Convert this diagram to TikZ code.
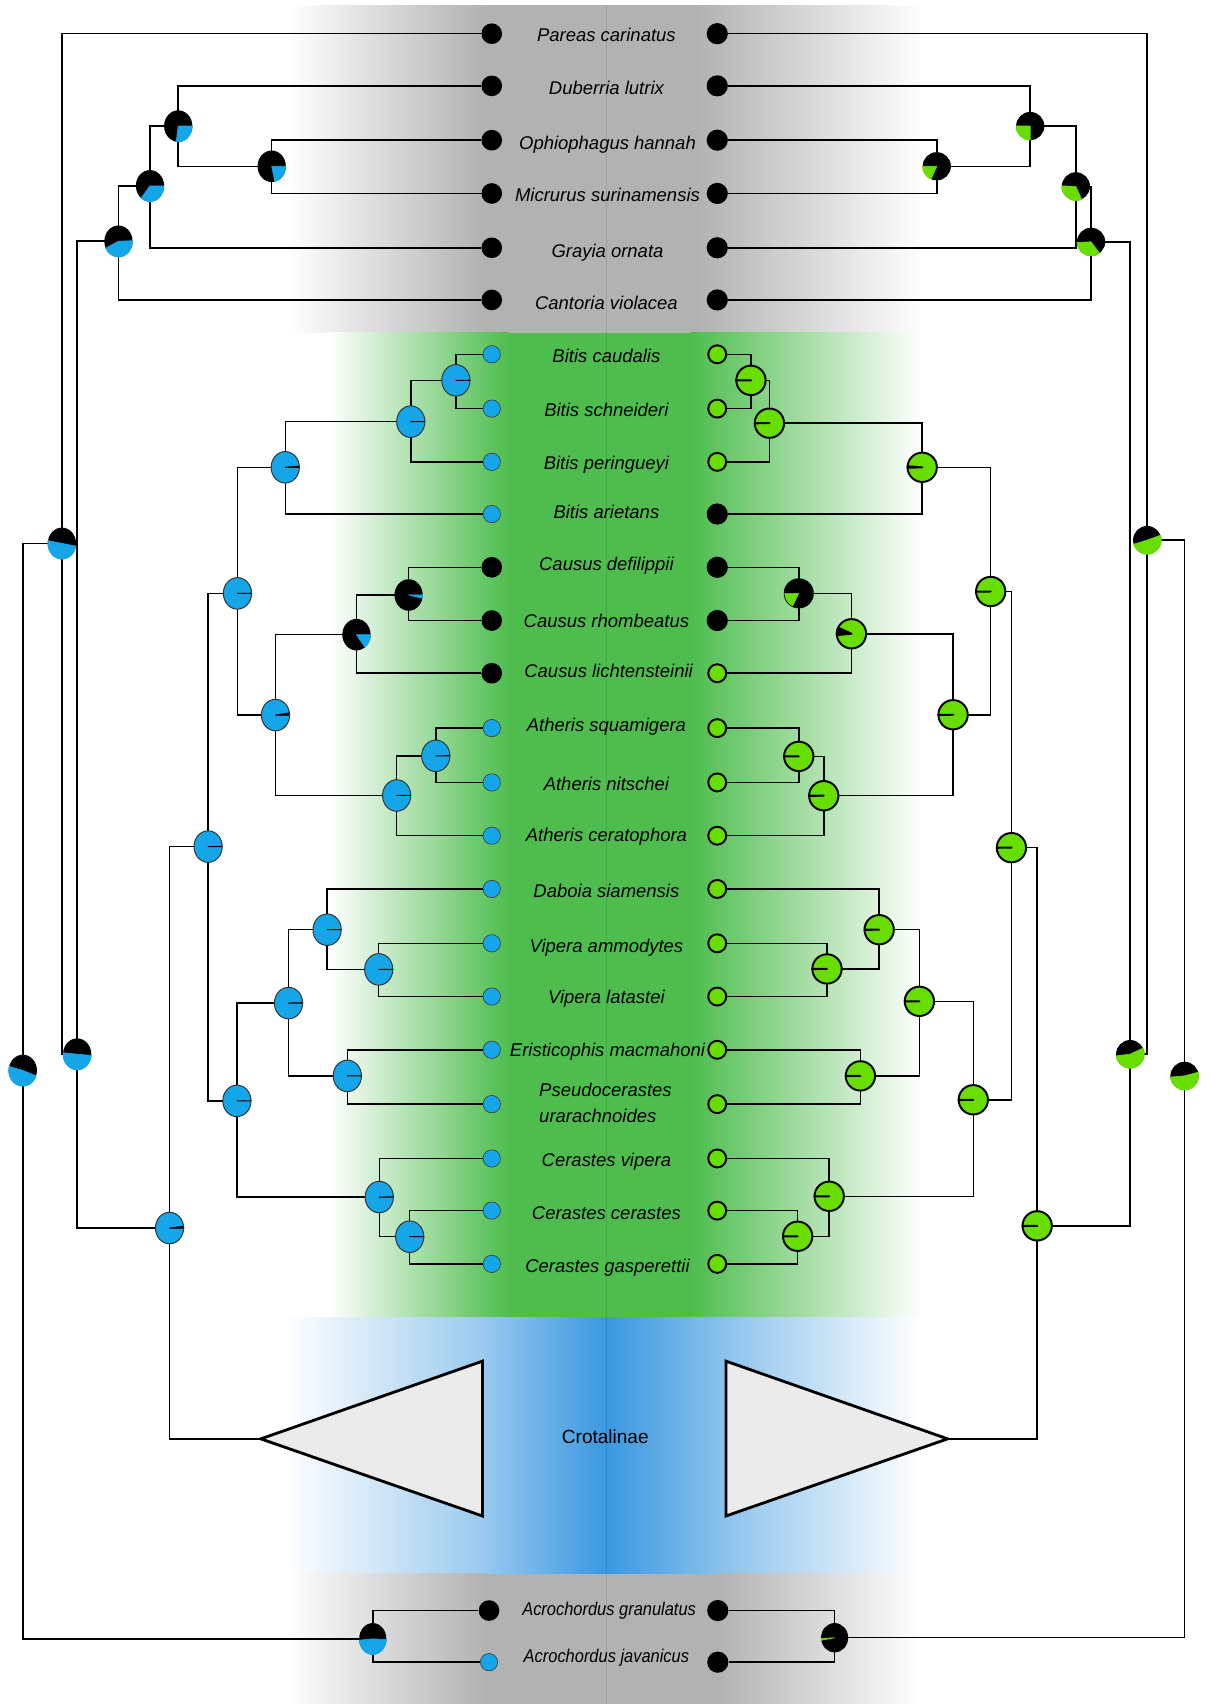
\documentclass[tikz,border=0pt]{standalone}
\usepackage{fontspec}
\setmainfont{Liberation Sans}
\definecolor{pblue}{RGB}{20,166,232}
\definecolor{pgreen}{RGB}{104,222,0}
\definecolor{bgreen}{RGB}{78,189,78}
\definecolor{bblue}{RGB}{58,152,224}
\definecolor{bgray}{RGB}{178,178,178}
\definecolor{trifill}{RGB}{235,235,235}
\tikzset{
 branch/.style={line width=1.4pt, black},
 ldark/.style={circle, fill=black, minimum size=19pt, inner sep=0pt},
 lblue/.style={circle, fill=pblue, draw=black!75, line width=0.6pt, minimum size=16pt, inner sep=0pt},
 rdark/.style={circle, fill=black, minimum size=19.5pt, inner sep=0pt},
 rgreen/.style={circle, fill=pgreen, draw=black, line width=1.8pt, minimum size=16.5pt, inner sep=0pt},
 lab/.style={font=\fontsize{17pt}{20pt}\selectfont\itshape, anchor=base, inner sep=0pt},
 trishape/.style={fill=trifill, draw=black, line width=2.6pt, line join=miter},
}
% #1 name, #2 rx, #3 ry, #4 base, #5 wedge, #6 from, #7 to, #8 lw, #9 outline
\newcommand\pie[9]{\begin{scope}[shift={(#1)},yscale=-1]
\fill[#4] (0,0) ellipse[x radius=#2,y radius=#3];
\filldraw[fill=#5,draw=#5,line width=#8,line join=round] (0,0) -- (#6:#2 and #3) arc[start angle=#6,end angle=#7,x radius=#2,y radius=#3] -- cycle;
\draw[#9,line width=#8] (0,0) ellipse[x radius=#2,y radius=#3];
\end{scope}}
\begin{document}
\begin{tikzpicture}[x=1pt,y=-1pt]
\useasboundingbox (0,0) rectangle (1114,1568);
\fill[white] (0,0) rectangle (1114,1568);
% ---- background bands
\shade[left color=white,right color=bgray] (266,5) rectangle (445,306);
\fill[bgray] (445,5) rectangle (642,306);
\shade[left color=bgray,right color=white] (642,5) rectangle (850,306);
\shade[left color=white,right color=bgreen] (303,306) rectangle (468,1212);
\fill[bgreen] (468,306) rectangle (636,1212);
\shade[left color=bgreen,right color=white] (636,306) rectangle (848,1212);
\shade[left color=white,right color=bblue!50] (263,1212) rectangle (440,1448);
\shade[left color=bblue!50,right color=bblue] (440,1212) rectangle (558,1448);
\shade[left color=bblue,right color=bblue!50] (558,1212) rectangle (690,1448);
\shade[left color=bblue!50,right color=white] (690,1212) rectangle (846,1448);
\shade[left color=white,right color=bgray] (263,1448) rectangle (447,1568);
\fill[bgray] (447,1448) rectangle (660,1568);
\shade[left color=bgray,right color=white] (660,1448) rectangle (846,1568);
\draw[black,opacity=0.1,line width=1.2pt] (558,5) -- (558,1568);
% ---- tip dots, left
\node[ldark] (a1) at (452.5,31) {};
\node[ldark] (a2) at (452.5,79) {};
\node[ldark] (a3) at (452.5,129) {};
\node[ldark] (a4) at (452.5,178) {};
\node[ldark] (a5) at (452.5,228) {};
\node[ldark] (a6) at (452.5,276) {};
\node[lblue] (a7) at (452.5,326) {};
\node[lblue] (a8) at (452.5,376) {};
\node[lblue] (a9) at (452.5,425) {};
\node[lblue] (a10) at (452.5,473) {};
\node[ldark] (a11) at (452.5,522) {};
\node[ldark] (a12) at (452.5,571) {};
\node[ldark] (a13) at (452.5,619.5) {};
\node[lblue] (a14) at (452.5,670) {};
\node[lblue] (a15) at (452.5,720) {};
\node[lblue] (a16) at (452.5,769) {};
\node[lblue] (a17) at (452.5,818) {};
\node[lblue] (a18) at (452.5,868) {};
\node[lblue] (a19) at (452.5,917) {};
\node[lblue] (a20) at (452.5,966) {};
\node[lblue] (a21) at (452.5,1016) {};
\node[lblue] (a22) at (452.5,1066) {};
\node[lblue] (a23) at (452.5,1114) {};
\node[lblue] (a24) at (452.5,1163) {};
\node[ldark] (a25) at (450,1482) {};
\node[lblue] (a26) at (450,1529.5) {};
% ---- tip dots, right
\node[rdark] (b1) at (660,31) {};
\node[rdark] (b2) at (660,79) {};
\node[rdark] (b3) at (660,129) {};
\node[rdark] (b4) at (660,178) {};
\node[rdark] (b5) at (660,228) {};
\node[rdark] (b6) at (660,276) {};
\node[rgreen] (b7) at (660,326) {};
\node[rgreen] (b8) at (660,376) {};
\node[rgreen] (b9) at (660,425) {};
\node[rdark] (b10) at (660,473) {};
\node[rdark] (b11) at (660,522) {};
\node[rdark] (b12) at (660,571) {};
\node[rgreen] (b13) at (660,619.5) {};
\node[rgreen] (b14) at (660,670) {};
\node[rgreen] (b15) at (660,720) {};
\node[rgreen] (b16) at (660,769) {};
\node[rgreen] (b17) at (660,818) {};
\node[rgreen] (b18) at (660,868) {};
\node[rgreen] (b19) at (660,917) {};
\node[rgreen] (b20) at (660,966) {};
\node[rgreen] (b21) at (660,1016) {};
\node[rgreen] (b22) at (660,1066) {};
\node[rgreen] (b23) at (660,1114) {};
\node[rgreen] (b24) at (660,1163) {};
\node[rdark] (b25) at (660.5,1482) {};
\node[rdark] (b26) at (660.5,1529.5) {};
% ---- internal nodes, left
\coordinate (lNOM) at (250,153);
\coordinate (lNDOM) at (164,116);
\coordinate (lNG) at (138,171);
\coordinate (lNC) at (109,222);
\coordinate (lM) at (71,970);
\coordinate (lP) at (57,500);
\coordinate (lR) at (21,985);
\coordinate (lAL) at (343,1508);
\coordinate (lV0) at (156,1130);
\coordinate (lV1) at (191.5,779);
\coordinate (lV2) at (218.5,546);
\coordinate (lB0) at (262.5,430);
\coordinate (lB1) at (378,388);
\coordinate (lB2) at (419.5,350);
\coordinate (lCA) at (253.5,658);
\coordinate (lC1) at (328,584);
\coordinate (lC2) at (376,547.5);
\coordinate (lA1) at (365,732);
\coordinate (lA2) at (401,695.5);
\coordinate (lV3) at (218,1013);
\coordinate (lDV) at (265.5,923);
\coordinate (lD1) at (301,855.5);
\coordinate (lVV) at (348.5,892);
\coordinate (lEP) at (319.6,990);
\coordinate (lCE1) at (349,1101.5);
\coordinate (lCE2) at (377,1138);
\coordinate (triL) at (240,1324);
% ---- internal nodes, right
\coordinate (rNOM) at (862,153);
\coordinate (rNDOM) at (948,116);
\coordinate (rNG) at (990,171.5);
\coordinate (rNC) at (1004,222.5);
\coordinate (rM) at (1040,970);
\coordinate (rP) at (1055.6,497);
\coordinate (rR) at (1090,990);
\coordinate (rAL) at (768,1507);
\coordinate (rV0) at (954.4,1128);
\coordinate (rV1) at (930.7,780);
\coordinate (rV2) at (911.6,544.3);
\coordinate (rB0) at (848.6,430);
\coordinate (rB1) at (708,389.4);
\coordinate (rB2) at (691,350);
\coordinate (rCA) at (877,657.7);
\coordinate (rC1) at (783.5,583.2);
\coordinate (rC2) at (735,546);
\coordinate (rA1) at (758,732.2);
\coordinate (rA2) at (735,696);
\coordinate (rV3) at (895.6,1012);
\coordinate (rDV) at (846,921.4);
\coordinate (rD1) at (809,855.5);
\coordinate (rVV) at (761,891.6);
\coordinate (rEP) at (791.7,990);
\coordinate (rCE1) at (763,1100.8);
\coordinate (rCE2) at (734,1137.6);
\coordinate (triR) at (872,1324);
% ---- connectors, left
\draw[branch] (lNOM) |- (a3) (lNOM) |- (a4);
\draw[branch] (lNDOM) |- (a2) (lNDOM) |- (lNOM);
\draw[branch] (lNG) |- (lNDOM) (lNG) |- (a5);
\draw[branch] (lNC) |- (lNG) (lNC) |- (a6);
\draw[branch] (lM) |- (lNC) (lM) |- (lV0);
\draw[branch] (lP) |- (a1) (lP) |- (lM);
\draw[branch] (lR) |- (lP) (lR) |- (lAL);
\draw[branch] (lAL) |- (a25) (lAL) |- (a26);
\draw[branch] (lV0) |- (lV1) (lV0) |- (triL);
\draw[branch] (lV1) |- (lV2) (lV1) |- (lV3);
\draw[branch] (lV2) |- (lB0) (lV2) |- (lCA);
\draw[branch] (lB0) |- (lB1) (lB0) |- (a10);
\draw[branch] (lB1) |- (lB2) (lB1) |- (a9);
\draw[branch] (lB2) |- (a7) (lB2) |- (a8);
\draw[branch] (lCA) |- (lC1) (lCA) |- (lA1);
\draw[branch] (lC1) |- (lC2) (lC1) |- (a13);
\draw[branch] (lC2) |- (a11) (lC2) |- (a12);
\draw[branch] (lA1) |- (lA2) (lA1) |- (a16);
\draw[branch] (lA2) |- (a14) (lA2) |- (a15);
\draw[branch] (lV3) |- (lDV) (lV3) |- (lCE1);
\draw[branch] (lDV) |- (lD1) (lDV) |- (lEP);
\draw[branch] (lD1) |- (a17) (lD1) |- (lVV);
\draw[branch] (lVV) |- (a18) (lVV) |- (a19);
\draw[branch] (lEP) |- (a20) (lEP) |- (a21);
\draw[branch] (lCE1) |- (a22) (lCE1) |- (lCE2);
\draw[branch] (lCE2) |- (a23) (lCE2) |- (a24);
% ---- connectors, right
\draw[branch] (rNOM) |- (b3) (rNOM) |- (b4);
\draw[branch] (rNDOM) |- (b2) (rNDOM) |- (rNOM);
\draw[branch] (rNG) |- (rNDOM) (rNG) |- (b5);
\draw[branch] (rNC) |- (rNG) (rNC) |- (b6);
\draw[branch] (rM) |- (rNC) (rM) |- (rV0);
\draw[branch] (rP) |- (b1) (rP) |- (rM);
\draw[branch] (rR) |- (rP) (rR) |- (rAL);
\draw[branch] (rAL) |- (b25) (rAL) |- (b26);
\draw[branch] (rV0) |- (rV1) (rV0) |- (triR);
\draw[branch] (rV1) |- (rV2) (rV1) |- (rV3);
\draw[branch] (rV2) |- (rB0) (rV2) |- (rCA);
\draw[branch] (rB0) |- (rB1) (rB0) |- (b10);
\draw[branch] (rB1) |- (rB2) (rB1) |- (b9);
\draw[branch] (rB2) |- (b7) (rB2) |- (b8);
\draw[branch] (rCA) |- (rC1) (rCA) |- (rA1);
\draw[branch] (rC1) |- (rC2) (rC1) |- (b13);
\draw[branch] (rC2) |- (b11) (rC2) |- (b12);
\draw[branch] (rA1) |- (rA2) (rA1) |- (b16);
\draw[branch] (rA2) |- (b14) (rA2) |- (b15);
\draw[branch] (rV3) |- (rDV) (rV3) |- (rCE1);
\draw[branch] (rDV) |- (rD1) (rDV) |- (rEP);
\draw[branch] (rD1) |- (b17) (rD1) |- (rVV);
\draw[branch] (rVV) |- (b18) (rVV) |- (b19);
\draw[branch] (rEP) |- (b20) (rEP) |- (b21);
\draw[branch] (rCE1) |- (b22) (rCE1) |- (rCE2);
\draw[branch] (rCE2) |- (b23) (rCE2) |- (b24);
% ---- collapsed Crotalinae triangles
\draw[trishape] (triL) -- (444,1252.5) -- (444,1395) -- cycle;
\draw[trishape] (triR) -- (668,1252.5) -- (668,1395) -- cycle;
% ---- pies, left
\pie{lNOM}{13}{14.5}{black}{pblue}{-77}{0}{0.6pt}{draw=none}
\pie{lNDOM}{13}{14.5}{black}{pblue}{-98}{0}{0.6pt}{draw=none}
\pie{lNG}{13}{14.5}{black}{pblue}{-129}{0}{0.6pt}{draw=none}
\pie{lNC}{13}{14.5}{black}{pblue}{-154}{2}{0.6pt}{draw=none}
\pie{lP}{13}{14.5}{black}{pblue}{170}{350}{0.6pt}{draw=none}
\pie{lM}{13}{14.5}{black}{pblue}{175}{355}{0.6pt}{draw=none}
\pie{lR}{13}{14.5}{black}{pblue}{165}{340}{0.6pt}{draw=none}
\pie{lAL}{12.5}{14.5}{black}{pblue}{185}{357}{0.6pt}{draw=none}
\pie{lV0}{13}{14.5}{pblue}{black}{0}{6}{0.9pt}{draw=black!80}
\pie{lV1}{13}{14.5}{pblue}{black}{0}{0.5}{0.9pt}{draw=black!80}
\pie{lV2}{13}{14.5}{pblue}{black}{0}{0.5}{0.9pt}{draw=black!80}
\pie{lB0}{13}{14.5}{pblue}{black}{0}{4}{0.9pt}{draw=black!80}
\pie{lB1}{13}{14.5}{pblue}{black}{0}{0.5}{0.9pt}{draw=black!80}
\pie{lB2}{13}{14.5}{pblue}{black}{0}{0.5}{0.9pt}{draw=black!80}
\pie{lCA}{13}{14.5}{pblue}{black}{0}{8}{0.9pt}{draw=black!80}
\pie{lC1}{13}{14.5}{black}{pblue}{-53}{0}{0.6pt}{draw=none}
\pie{lC2}{13}{14.5}{black}{pblue}{-12}{0}{0.6pt}{draw=none}
\pie{lA1}{13}{14.5}{pblue}{black}{0}{0.5}{0.9pt}{draw=black!80}
\pie{lA2}{13}{14.5}{pblue}{black}{0}{0.5}{0.9pt}{draw=black!80}
\pie{lV3}{13}{14.5}{pblue}{black}{0}{0.5}{0.9pt}{draw=black!80}
\pie{lDV}{13}{14.5}{pblue}{black}{0}{1.5}{0.9pt}{draw=black!80}
\pie{lD1}{13}{14.5}{pblue}{black}{0}{0.5}{0.9pt}{draw=black!80}
\pie{lVV}{13}{14.5}{pblue}{black}{0}{0.5}{0.9pt}{draw=black!80}
\pie{lEP}{13}{14.5}{pblue}{black}{0}{0.5}{0.9pt}{draw=black!80}
\pie{lCE1}{13}{14.5}{pblue}{black}{0}{0.5}{0.9pt}{draw=black!80}
\pie{lCE2}{13}{14.5}{pblue}{black}{0}{0.5}{0.9pt}{draw=black!80}
% ---- pies, right
\pie{rNOM}{13}{13}{black}{pgreen}{180}{246}{0.6pt}{draw=none}
\pie{rNDOM}{13}{13}{black}{pgreen}{180}{270}{0.6pt}{draw=none}
\pie{rNG}{13}{13}{black}{pgreen}{178}{294}{0.6pt}{draw=none}
\pie{rNC}{13}{13}{black}{pgreen}{183}{306}{0.6pt}{draw=none}
\pie{rP}{13}{13}{black}{pgreen}{197}{380}{0.6pt}{draw=none}
\pie{rM}{13}{13}{black}{pgreen}{187}{385}{0.6pt}{draw=none}
\pie{rR}{13}{13}{black}{pgreen}{185}{375}{0.6pt}{draw=none}
\pie{rAL}{12.5}{13.5}{black}{pgreen}{183}{190}{0.6pt}{draw=none}
\pie{rV0}{13.5}{13.5}{pgreen}{black}{180}{180.5}{1.8pt}{draw=black}
\pie{rV1}{13.5}{13.5}{pgreen}{black}{180}{180.5}{1.8pt}{draw=black}
\pie{rV2}{13.5}{13.5}{pgreen}{black}{180}{180.5}{1.8pt}{draw=black}
\pie{rB0}{13.5}{13.5}{pgreen}{black}{176}{182}{1.8pt}{draw=black}
\pie{rB1}{13.5}{13.5}{pgreen}{black}{180}{180.5}{1.8pt}{draw=black}
\pie{rB2}{13.5}{13.5}{pgreen}{black}{180}{180.5}{1.8pt}{draw=black}
\pie{rCA}{13.5}{13.5}{pgreen}{black}{180}{180.5}{1.8pt}{draw=black}
\pie{rC1}{13.5}{13.5}{pgreen}{black}{155}{185}{1.8pt}{draw=black}
\pie{rC2}{13.5}{13.5}{black}{pgreen}{180}{244}{0.6pt}{draw=black}
\pie{rA1}{13.5}{13.5}{pgreen}{black}{180}{180.5}{1.8pt}{draw=black}
\pie{rA2}{13.5}{13.5}{pgreen}{black}{180}{180.5}{1.8pt}{draw=black}
\pie{rV3}{13.5}{13.5}{pgreen}{black}{180}{180.5}{1.8pt}{draw=black}
\pie{rDV}{13.5}{13.5}{pgreen}{black}{180}{180.5}{1.8pt}{draw=black}
\pie{rD1}{13.5}{13.5}{pgreen}{black}{180}{180.5}{1.8pt}{draw=black}
\pie{rVV}{13.5}{13.5}{pgreen}{black}{180}{180.5}{1.8pt}{draw=black}
\pie{rEP}{13.5}{13.5}{pgreen}{black}{180}{180.5}{1.8pt}{draw=black}
\pie{rCE1}{13.5}{13.5}{pgreen}{black}{180}{180.5}{1.8pt}{draw=black}
\pie{rCE2}{13.5}{13.5}{pgreen}{black}{180}{180.5}{1.8pt}{draw=black}
% ---- labels
\node[lab] (t1) at (558,38.3) {Pareas carinatus};
\node[lab] (t2) at (558,87.4) {Duberria lutrix};
\node[lab] (t3) at (559,137.5) {Ophiophagus hannah};
\node[lab] (t4) at (559,185.5) {Micrurus surinamensis};
\node[lab] (t5) at (559,237) {Grayia ornata};
\node[lab] (t6) at (558,285) {Cantoria violacea};
\node[lab] (t7) at (558,333.3) {Bitis caudalis};
\node[lab] (t8) at (558,383.3) {Bitis schneideri};
\node[lab] (t9) at (558,431.7) {Bitis peringueyi};
\node[lab] (t10) at (558,476.8) {Bitis arietans};
\node[lab] (t11) at (558,525) {Causus defilippii};
\node[lab] (t12) at (558,577.4) {Causus rhombeatus};
\node[lab] (t13) at (560,623.4) {Causus lichtensteinii};
\node[lab] (t14) at (558,673) {Atheris squamigera};
\node[lab] (t15) at (558,727) {Atheris nitschei};
\node[lab] (t16) at (558,774.2) {Atheris ceratophora};
\node[lab] (t17) at (558,826) {Daboia siamensis};
\node[lab] (t18) at (558,876.4) {Vipera ammodytes};
\node[lab] (t19) at (558,923) {Vipera latastei};
\node[lab] (t20) at (559,972.5) {Eristicophis macmahoni};
\node[lab,anchor=base west] (t21) at (496,1009.4) {\fontsize{17pt}{23.9pt}\selectfont\vtop{\hbox{Pseudocerastes}\hbox{urarachnoides}}};
\node[lab] (t22) at (558,1073.8) {Cerastes vipera};
\node[lab] (t23) at (558,1122.3) {Cerastes cerastes};
\node[lab] (t24) at (559,1171.3) {Cerastes gasperettii};
\node[lab] (t25) at (560.5,1487) {\scalebox{0.89}[1]{Acrochordus granulatus}};
\node[lab] (t26) at (558,1530) {\scalebox{0.89}[1]{Acrochordus javanicus}};
\node[font=\fontsize{17.5pt}{20pt}\selectfont, anchor=base, inner sep=0pt] (cro) at (557,1328.3) {Crotalinae};
\end{tikzpicture}
\end{document}
